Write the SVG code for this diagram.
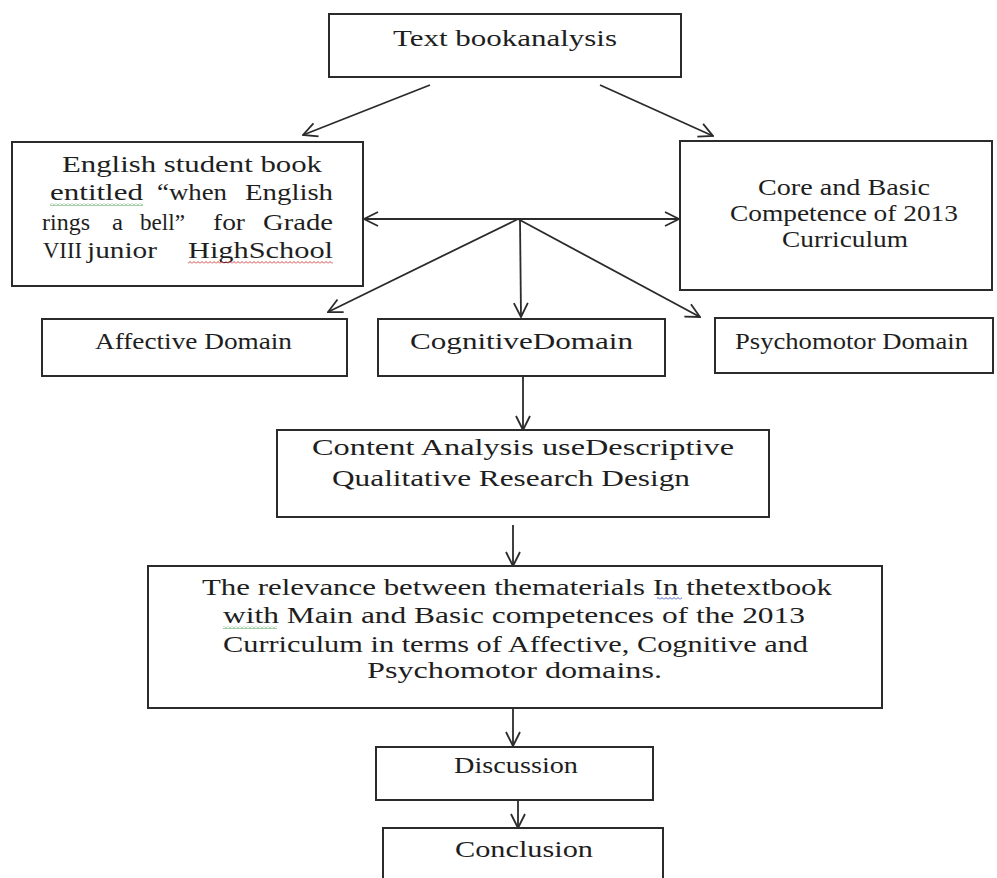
<svg xmlns="http://www.w3.org/2000/svg" width="997" height="878" viewBox="0 0 997 878">
<style>
.box{fill:#fff;stroke:#2b2b2b;stroke-width:2}
.t{font-family:"Liberation Serif","Times New Roman",serif;font-size:24px;fill:#1e1e1e}
.c{fill:none;stroke:#2b2b2b;stroke-width:1.8}
</style>
<defs>
<marker id="ah" viewBox="0 0 16 16" refX="15" refY="8" markerWidth="16" markerHeight="16" markerUnits="userSpaceOnUse" orient="auto-start-reverse">
<path d="M1,1 L15,8 L1,15" fill="none" stroke="#2b2b2b" stroke-width="1.8"/>
</marker>
<pattern id="wg" width="4" height="3" patternUnits="userSpaceOnUse"><path d="M0,2.5 L2,0.5 L4,2.5" fill="none" stroke="#3a9a3a" stroke-width="0.9"/></pattern>
<pattern id="wr" width="4" height="3" patternUnits="userSpaceOnUse"><path d="M0,2.5 L2,0.5 L4,2.5" fill="none" stroke="#d03030" stroke-width="0.9"/></pattern>
<pattern id="wb" width="4" height="3" patternUnits="userSpaceOnUse"><path d="M0,2.5 L2,0.5 L4,2.5" fill="none" stroke="#3050c0" stroke-width="0.9"/></pattern>
</defs>
<rect width="997" height="878" fill="#fff"/>

<g id="connectors">
<line class="c" x1="430" y1="85" x2="303" y2="135" marker-end="url(#ah)"/>
<line class="c" x1="600" y1="85" x2="713" y2="136" marker-end="url(#ah)"/>
<line class="c" x1="364" y1="219" x2="679" y2="219" marker-start="url(#ah)" marker-end="url(#ah)"/>
<line class="c" x1="518" y1="219" x2="328" y2="312" marker-end="url(#ah)"/>
<line class="c" x1="520" y1="219" x2="521" y2="317" marker-end="url(#ah)"/>
<line class="c" x1="518" y1="219" x2="700" y2="317" marker-end="url(#ah)"/>
<line class="c" x1="523" y1="376" x2="523" y2="430" marker-end="url(#ah)"/>
<line class="c" x1="513" y1="525" x2="513" y2="566" marker-end="url(#ah)"/>
<line class="c" x1="513" y1="708" x2="513" y2="746" marker-end="url(#ah)"/>
<line class="c" x1="518" y1="793" x2="518" y2="828" marker-end="url(#ah)"/>
</g>

<g id="textbook-analysis">
<rect class="box" x="329" y="14" width="352" height="63"/>
<text class="t" x="393" y="46" textLength="224" lengthAdjust="spacingAndGlyphs">Text bookanalysis</text>
</g>

<g id="english-book">
<rect class="box" x="12" y="142" width="351" height="144"/>
<text class="t" x="62" y="172" textLength="260" lengthAdjust="spacingAndGlyphs">English student book</text>
<text class="t" y="200"><tspan x="50" textLength="93" lengthAdjust="spacingAndGlyphs">entitled</tspan> <tspan x="157" textLength="70" lengthAdjust="spacingAndGlyphs">“when</tspan> <tspan x="245" textLength="88" lengthAdjust="spacingAndGlyphs">English</tspan></text>
<text class="t" y="230"><tspan x="42" textLength="48" lengthAdjust="spacingAndGlyphs">rings</tspan> <tspan x="112" textLength="11" lengthAdjust="spacingAndGlyphs">a</tspan> <tspan x="140" textLength="45" lengthAdjust="spacingAndGlyphs">bell”</tspan> <tspan x="213" textLength="32" lengthAdjust="spacingAndGlyphs">for</tspan> <tspan x="263" textLength="70" lengthAdjust="spacingAndGlyphs">Grade</tspan></text>
<text class="t" y="258"><tspan x="43" textLength="39" lengthAdjust="spacingAndGlyphs">VIII</tspan> <tspan x="87" textLength="70" lengthAdjust="spacingAndGlyphs">junior</tspan> <tspan x="188" textLength="145" lengthAdjust="spacingAndGlyphs">HighSchool</tspan></text>
<rect x="50" y="203" width="93" height="3" fill="url(#wg)"/>
<rect x="188" y="261" width="145" height="3" fill="url(#wr)"/>
</g>

<g id="core-competence">
<rect class="box" x="680" y="141" width="312" height="149"/>
<text class="t" x="758" y="195" textLength="172" lengthAdjust="spacingAndGlyphs">Core and Basic</text>
<text class="t" x="730" y="221" textLength="228" lengthAdjust="spacingAndGlyphs">Competence of 2013</text>
<text class="t" x="782" y="247" textLength="126" lengthAdjust="spacingAndGlyphs">Curriculum</text>
</g>

<g id="affective">
<rect class="box" x="42" y="319" width="305" height="57"/>
<text class="t" x="95" y="349" textLength="197" lengthAdjust="spacingAndGlyphs">Affective Domain</text>
</g>

<g id="cognitive">
<rect class="box" x="378" y="319" width="287" height="57"/>
<text class="t" x="410" y="349" textLength="223" lengthAdjust="spacingAndGlyphs">CognitiveDomain</text>
</g>

<g id="psychomotor">
<rect class="box" x="715" y="318" width="278" height="55"/>
<text class="t" x="735" y="349" textLength="233" lengthAdjust="spacingAndGlyphs">Psychomotor Domain</text>
</g>

<g id="content-analysis">
<rect class="box" x="277" y="430" width="492" height="87"/>
<text class="t" x="312" y="455" textLength="422" lengthAdjust="spacingAndGlyphs">Content Analysis useDescriptive</text>
<text class="t" x="332" y="486" textLength="358" lengthAdjust="spacingAndGlyphs">Qualitative Research Design</text>
</g>

<g id="relevance">
<rect class="box" x="148" y="566" width="734" height="142"/>
<text class="t" x="202" y="595" textLength="630" lengthAdjust="spacingAndGlyphs">The relevance between thematerials In thetextbook</text>
<text class="t" x="223" y="623" textLength="582" lengthAdjust="spacingAndGlyphs">with Main and Basic competences of the 2013</text>
<text class="t" x="223" y="652" textLength="585" lengthAdjust="spacingAndGlyphs">Curriculum in terms of Affective, Cognitive and</text>
<text class="t" x="367" y="678" textLength="295" lengthAdjust="spacingAndGlyphs">Psychomotor domains.</text>
<rect x="223" y="626" width="54" height="3" fill="url(#wg)"/>
<rect x="657" y="597" width="25" height="3" fill="url(#wb)"/>
</g>

<g id="discussion">
<rect class="box" x="376" y="747" width="277" height="53"/>
<text class="t" x="454" y="773" textLength="124" lengthAdjust="spacingAndGlyphs">Discussion</text>
</g>

<g id="conclusion">
<rect class="box" x="383" y="828" width="280" height="70"/>
<text class="t" x="455" y="857" textLength="138" lengthAdjust="spacingAndGlyphs">Conclusion</text>
</g>
</svg>
